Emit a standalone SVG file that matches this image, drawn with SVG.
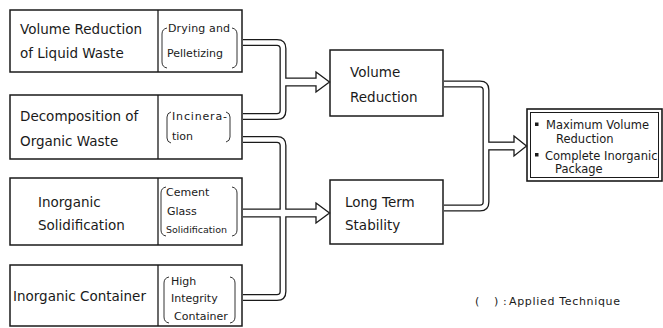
<svg xmlns="http://www.w3.org/2000/svg" width="663" height="328" viewBox="0 0 663 328">
<defs>
<style>
.box{fill:#fff;stroke:#1a1a1a;stroke-width:1.5}
.dv{stroke:#1a1a1a;stroke-width:1.3}
.t{font-family:"DejaVu Sans","Liberation Sans",sans-serif;font-size:13.5px;fill:#1a1a1a}
.s{font-family:"DejaVu Sans","Liberation Sans",sans-serif;font-size:11px;fill:#1a1a1a}
.r{font-family:"DejaVu Sans","Liberation Sans",sans-serif;font-size:11.5px;fill:#1a1a1a}
.br{fill:none;stroke:#333;stroke-width:1}
.po{fill:none;stroke:#1a1a1a;stroke-width:7}
.pi{fill:none;stroke:#fff;stroke-width:4.4}
.so{fill:none;stroke:#1a1a1a;stroke-width:9}
.si{fill:none;stroke:#fff;stroke-width:6.4}
.ah{fill:#fff;stroke:#1a1a1a;stroke-width:1.3;stroke-linejoin:miter}
</style>
</defs>
<rect width="663" height="328" fill="#fff"/>

<g id="n1">
<rect class="box" x="10" y="10" width="232" height="62"/>
<line class="dv" x1="158" y1="10" x2="158" y2="72"/>
<text class="t" x="20" y="34">Volume Reduction</text>
<text class="t" x="20" y="58">of Liquid Waste</text>
<path class="br" d="M167,28 Q162,29 162,34 L162,62 Q162,67 167,68"/>
<path class="br" d="M232,28 Q237,29 237,34 L237,62 Q237,67 232,68"/>
<text class="s" x="168" y="32" textLength="62" lengthAdjust="spacing">Drying and</text>
<text class="s" x="167" y="57">Pelletizing</text>
</g>

<g id="n2">
<rect class="box" x="10" y="95" width="232" height="64"/>
<line class="dv" x1="158" y1="95" x2="158" y2="159"/>
<text class="t" x="20" y="121">Decomposition of</text>
<text class="t" x="20" y="146">Organic Waste</text>
<path class="br" d="M171,112 Q167,113 167,117 L167,138 Q167,142 171,143"/>
<path class="br" d="M226,112 Q230,113 230,117 L230,137 Q230,141 226,142"/>
<text class="s" x="172" y="120" textLength="55" lengthAdjust="spacing">Incinera-</text>
<text class="s" x="172" y="140">tion</text>
</g>

<g id="n3">
<rect class="box" x="10" y="178" width="232" height="67"/>
<line class="dv" x1="158" y1="178" x2="158" y2="245"/>
<text class="t" x="38" y="207">Inorganic</text>
<text class="t" x="38" y="230">Solidification</text>
<path class="br" d="M166,187 Q161,188 161,193 L161,230 Q161,235 166,236"/>
<path class="br" d="M232,187 Q237,188 237,193 L237,230 Q237,235 232,236"/>
<text class="s" x="166" y="196">Cement</text>
<text class="s" x="167" y="215">Glass</text>
<text class="s" x="166" y="233" style="font-size:9.5px">Solidification</text>
</g>

<g id="n4">
<rect class="box" x="10" y="265" width="232" height="61"/>
<line class="dv" x1="158" y1="265" x2="158" y2="326"/>
<text class="t" x="13" y="301">Inorganic Container</text>
<path class="br" d="M169,277 Q164,278 164,283 L164,317 Q164,322 169,323"/>
<path class="br" d="M230,277 Q235,278 235,283 L235,317 Q235,322 230,323"/>
<text class="s" x="171" y="285">High</text>
<text class="s" x="171" y="302">Integrity</text>
<text class="s" x="174" y="320">Container</text>
</g>

<g id="n5">
<rect class="box" x="330" y="50" width="113" height="66"/>
<text class="t" x="350" y="77">Volume</text>
<text class="t" x="350" y="102">Reduction</text>
</g>

<g id="n6">
<rect class="box" x="330" y="180" width="113" height="64"/>
<text class="t" x="345" y="207">Long Term</text>
<text class="t" x="345" y="230">Stability</text>
</g>

<g id="n7">
<rect x="527" y="109" width="135" height="72" fill="#fff" stroke="#1a1a1a" stroke-width="1.6"/>
<rect x="530.5" y="112.5" width="128" height="65" fill="none" stroke="#1a1a1a" stroke-width="1"/>
<rect x="535" y="122.5" width="3.5" height="3.5" fill="#1a1a1a"/>
<rect x="535" y="153" width="3.5" height="3.5" fill="#1a1a1a"/>
<text class="r" x="546" y="129">Maximum Volume</text>
<text class="r" x="556" y="143">Reduction</text>
<text class="r" x="545" y="160">Complete Inorganic</text>
<text class="r" x="555" y="173">Package</text>
</g>

<g id="legend">
<text class="s" x="475" y="305" fill="#444">(</text>
<text class="s" x="494" y="305" fill="#444">)</text>
<text class="s" x="503" y="305">:</text>
<text class="s" x="509" y="305" textLength="111" lengthAdjust="spacing">Applied Technique</text>
</g>

<g id="connectors">
<path class="po" d="M243,42.5 H277 Q283,42.5 283,48.5 V82"/>
<path class="po" d="M243,116.5 H277 Q283,116.5 283,110.5 V82"/>
<path class="so" d="M283,82 H316"/>
<path class="po" d="M243,139.5 H277 Q283,139.5 283,145.5 V213"/>
<path class="po" d="M243,297.5 H277 Q283,297.5 283,291.5 V213"/>
<path class="so" d="M243,213 H316"/>
<path class="po" d="M444,84 H480 Q486,84 486,90 V146"/>
<path class="po" d="M444,208 H480 Q486,208 486,202 V146"/>
<path class="so" d="M486,146 H514"/>
<polygon class="ah" points="316,72 329.5,82 316,92"/>
<polygon class="ah" points="316,203 329.5,213 316,223"/>
<polygon class="ah" points="514,136 526.5,146 514,156"/>
<path class="pi" d="M243,42.5 H277 Q283,42.5 283,48.5 V82"/>
<path class="pi" d="M243,116.5 H277 Q283,116.5 283,110.5 V82"/>
<path class="si" d="M283,82 H317"/>
<path class="pi" d="M243,139.5 H277 Q283,139.5 283,145.5 V213"/>
<path class="pi" d="M243,297.5 H277 Q283,297.5 283,291.5 V213"/>
<path class="si" d="M243,213 H317"/>
<path class="pi" d="M444,84 H480 Q486,84 486,90 V146"/>
<path class="pi" d="M444,208 H480 Q486,208 486,202 V146"/>
<path class="si" d="M486,146 H515"/>
</g>
</svg>
